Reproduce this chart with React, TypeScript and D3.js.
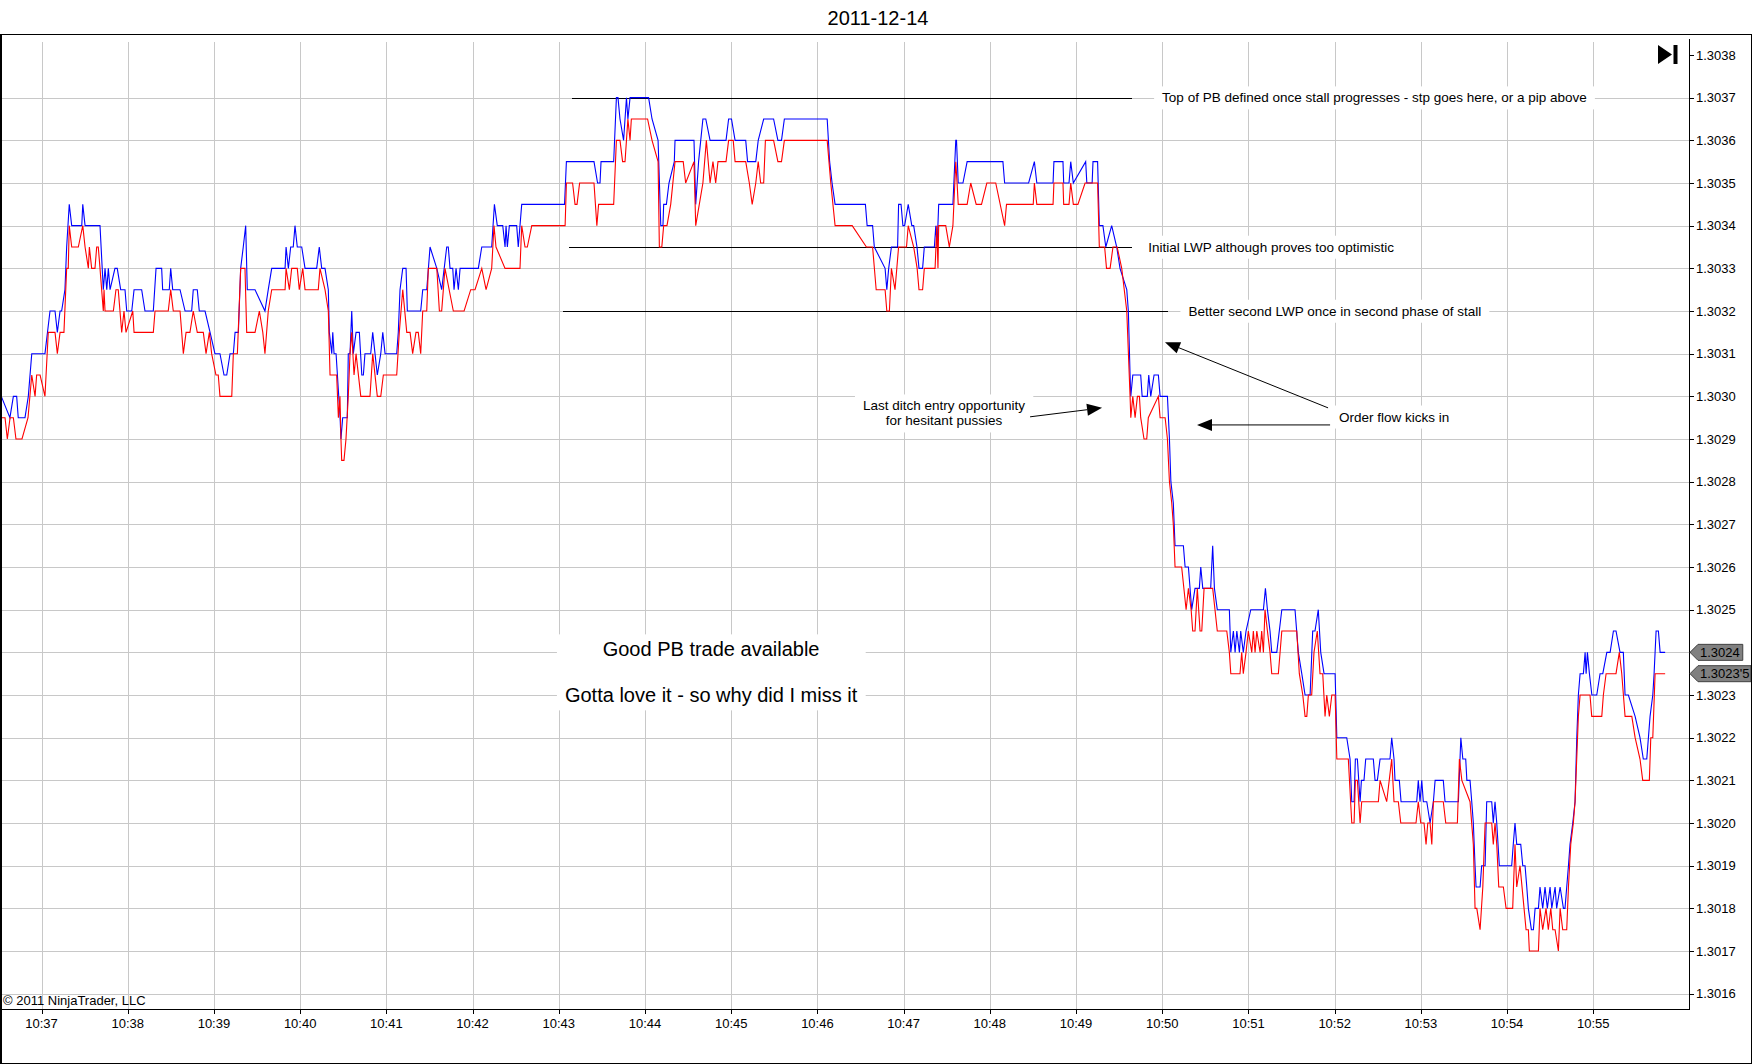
import { useEffect, useRef } from 'react';
import * as d3 from 'd3';

// tick chart of 2011-12-14, 10:36:31 - 10:56:06 (times are seconds after 10:36:00)
const TITLE = '2011-12-14';
const COPYRIGHT = '\u00a9 2011 NinjaTrader, LLC';
const SESSION_START = new Date(2011, 11, 14, 10, 36, 0);
const VIEW_FROM = 31.1;
const VIEW_TO = 1206.6;

const TIME_TICKS = ['10:37', '10:38', '10:39', '10:40', '10:41', '10:42', '10:43', '10:44', '10:45',
  '10:46', '10:47', '10:48', '10:49', '10:50', '10:51', '10:52', '10:53', '10:54', '10:55'];

const PRICE_TICKS = [1.3016, 1.3017, 1.3018, 1.3019, 1.302, 1.3021, 1.3022, 1.3023, 1.3024, 1.3025,
  1.3026, 1.3027, 1.3028, 1.3029, 1.303, 1.3031, 1.3032, 1.3033, 1.3034, 1.3035, 1.3036, 1.3037, 1.3038];

// ask (blue) ticks: [seconds, price]
const ASK: [number, number][] = [
  [32, 1.303], [38, 1.30295], [40.4, 1.303], [42.7, 1.303], [43.8, 1.30295], [48.5, 1.30295], [50.8, 1.303],
  [53.2, 1.3031], [62.4, 1.3031], [65.9, 1.3032], [69.4, 1.3032], [71, 1.30315], [72.9, 1.3032], [74, 1.3032],
  [76.3, 1.30325], [77.5, 1.30335], [79.3, 1.30345], [81, 1.3034], [88, 1.3034], [88.7, 1.30345], [90.3, 1.3034],
  [100.7, 1.3034], [103, 1.30325], [104.2, 1.3033], [105.4, 1.30325], [106.5, 1.3033], [107.7, 1.30325],
  [111.1, 1.3033], [112.7, 1.3033], [115.1, 1.30325], [118.1, 1.30325], [119.3, 1.3032], [122.8, 1.3032],
  [124.4, 1.30325], [129.7, 1.30325], [132, 1.3032], [137.8, 1.3032], [139.7, 1.3033], [143.6, 1.3033],
  [144.3, 1.30325], [148.9, 1.30325], [149.9, 1.3033], [151.3, 1.30325], [156.4, 1.30325], [159.9, 1.3032],
  [164.5, 1.3032], [165.6, 1.30325], [168.4, 1.30325], [169.8, 1.3032], [173.8, 1.3032], [177.3, 1.30315],
  [180.7, 1.3031], [184.2, 1.3031], [187, 1.30305], [188.9, 1.30305], [191.2, 1.3031], [193.5, 1.3031],
  [194.7, 1.30315], [197, 1.30315], [198.6, 1.3033], [200.4, 1.30335], [202.1, 1.3034], [203.2, 1.30325],
  [208.6, 1.30325], [215.5, 1.3032], [217.8, 1.30325], [220.2, 1.3033], [229.5, 1.3033], [230.2, 1.30335],
  [231.8, 1.3033], [233.4, 1.30335], [235.2, 1.30335], [236.4, 1.3034], [238, 1.30335], [241.1, 1.30335],
  [243.4, 1.3033], [251.5, 1.3033], [253.3, 1.30335], [255, 1.3033], [257.3, 1.3033], [259.6, 1.30325],
  [260.3, 1.30315], [262, 1.3031], [262.7, 1.30315], [263.6, 1.3031], [265, 1.3031], [267.8, 1.30295],
  [268.4, 1.3029], [269.6, 1.30295], [272.8, 1.30295], [273.5, 1.3031], [274.7, 1.3031], [275.9, 1.3032],
  [277, 1.3031], [278.9, 1.30315], [281.2, 1.30315], [282.9, 1.30305], [284, 1.30305], [285.1, 1.3031],
  [289.1, 1.3031], [290.5, 1.30315], [292.1, 1.3031], [293.7, 1.30305], [296.1, 1.3031], [297.5, 1.30315],
  [299.1, 1.3031], [307.2, 1.3031], [308.3, 1.30315], [309.5, 1.30325], [311.4, 1.3033], [313.7, 1.3033],
  [314.6, 1.3032], [323.9, 1.3032], [325.3, 1.30325], [328.1, 1.30325], [330.4, 1.30335], [335.1, 1.3033],
  [338.5, 1.30325], [342, 1.30335], [343.1, 1.30335], [344.3, 1.3033], [346.2, 1.3033], [347.1, 1.30325],
  [348.5, 1.3033], [350.1, 1.30325], [351.3, 1.3033], [364, 1.3033], [366.4, 1.30335], [373.3, 1.30335],
  [375.2, 1.30345], [377.2, 1.3034], [381, 1.3034], [382.6, 1.30335], [383.3, 1.3034], [384.2, 1.30335],
  [385.6, 1.3034], [390.7, 1.3034], [391.8, 1.30335], [394.2, 1.30345], [424, 1.30345], [425.3, 1.30355],
  [444.5, 1.30355], [447, 1.3035], [448.7, 1.3035], [449.4, 1.30355], [458.2, 1.30355], [460.1, 1.3037],
  [461.2, 1.3037], [462.6, 1.30365], [465.1, 1.3036], [467.1, 1.3037], [468.1, 1.30365], [469.6, 1.3037],
  [482.5, 1.3037], [484.9, 1.30365], [489.1, 1.3036], [491, 1.3034], [492.5, 1.3034], [493, 1.30345],
  [494.9, 1.30345], [496.7, 1.3035], [500.4, 1.30355], [500.9, 1.3036], [514.1, 1.3036], [515.3, 1.30345],
  [517.3, 1.30355], [520.3, 1.30365], [522.3, 1.30365], [525.3, 1.3036], [536.4, 1.3036], [538.2, 1.30365],
  [540.2, 1.30365], [542.7, 1.3036], [550.1, 1.3036], [551.4, 1.30355], [557.1, 1.30355], [558.8, 1.3036],
  [562.6, 1.30365], [569.5, 1.30365], [572.5, 1.3036], [575, 1.3036], [577, 1.30365], [606.8, 1.30365],
  [608.5, 1.30355], [610.2, 1.3035], [612.3, 1.30345], [633.4, 1.30345], [634.6, 1.3034], [638.4, 1.3034],
  [639.6, 1.30335], [647.1, 1.3033], [648.3, 1.30325], [649.6, 1.3033], [651.5, 1.30335], [655.8, 1.30335],
  [656.5, 1.30345], [658.2, 1.30345], [659.5, 1.3034], [660.7, 1.3034], [663.2, 1.30345], [665.7, 1.3034],
  [667, 1.3034], [669.3, 1.30335], [670.7, 1.3033], [673.2, 1.3033], [674.4, 1.30335], [681.4, 1.30335],
  [682.4, 1.3034], [683.3, 1.30335], [684.4, 1.30345], [694.3, 1.30345], [696.3, 1.3036], [696.8, 1.3036],
  [698, 1.3035], [701.3, 1.3035], [704.2, 1.30355], [729.1, 1.30355], [730.3, 1.3035], [747, 1.3035],
  [751, 1.30355], [752.7, 1.3035], [764, 1.3035], [764.6, 1.30355], [770.9, 1.30355], [771.4, 1.3035],
  [775.1, 1.3035], [776.3, 1.30355], [778.1, 1.3035], [786.7, 1.30355], [787.5, 1.3035], [791.2, 1.3035],
  [791.8, 1.30355], [795, 1.30355], [796.2, 1.3034], [798.7, 1.3034], [800.7, 1.30335], [804.8, 1.3034],
  [808.3, 1.30335], [810.6, 1.3033], [815.3, 1.30325], [816.4, 1.3032], [817.6, 1.30305], [818.1, 1.303],
  [819.5, 1.30305], [825, 1.30305], [826, 1.303], [829.6, 1.303], [830.6, 1.30305], [832, 1.303],
  [834.3, 1.30305], [837.3, 1.30305], [838.5, 1.303], [843.6, 1.303], [845, 1.3029], [846, 1.3028],
  [847.7, 1.30275], [848.9, 1.30265], [854.7, 1.30265], [855.9, 1.3026], [858.2, 1.3026], [860.5, 1.3025],
  [862.8, 1.30255], [865.8, 1.30255], [866.8, 1.3026], [868.2, 1.30255], [873.7, 1.30255], [875.1, 1.30265],
  [876.3, 1.30255], [878.3, 1.3025], [886.7, 1.3025], [887.7, 1.3024], [889.5, 1.30245], [890.7, 1.3024],
  [891.9, 1.30245], [893.7, 1.3024], [894.6, 1.30245], [896.4, 1.3024], [898.3, 1.30245], [901.6, 1.3025],
  [910.4, 1.3025], [911.8, 1.30255], [913.2, 1.3025], [915, 1.30245], [916.2, 1.3024], [919.7, 1.3024],
  [923.2, 1.3025], [932.4, 1.3025], [934.7, 1.3024], [937.1, 1.30235], [939.4, 1.3023], [942.9, 1.3023],
  [944.7, 1.30245], [946.3, 1.30245], [948.6, 1.3025], [950.3, 1.3024], [952.6, 1.30235], [960.3, 1.30235],
  [961.5, 1.3022], [968.4, 1.3022], [970.7, 1.30215], [971.9, 1.30205], [973.5, 1.30205], [974.4, 1.30215],
  [975.8, 1.30215], [977.7, 1.30205], [978.6, 1.3021], [980.4, 1.3021], [981.6, 1.30215], [986.9, 1.30215],
  [988.1, 1.3021], [989.7, 1.3021], [991.6, 1.30215], [998.5, 1.30215], [999.7, 1.3022], [1001.3, 1.30215],
  [1002, 1.3021], [1005, 1.3021], [1006.2, 1.30205], [1017.1, 1.30205], [1018.2, 1.3021], [1019.4, 1.30205],
  [1020.6, 1.3021], [1021.7, 1.30205], [1024.1, 1.30205], [1026.4, 1.302], [1028.7, 1.30205], [1029.9, 1.3021],
  [1035.6, 1.3021], [1036.8, 1.30205], [1046.1, 1.30205], [1047.8, 1.3022], [1049.2, 1.30215], [1051.2, 1.30215],
  [1052, 1.3021], [1054.2, 1.3021], [1055.4, 1.30205], [1056.5, 1.302], [1057.7, 1.3019], [1058.4, 1.30185],
  [1061.2, 1.30185], [1062.3, 1.3019], [1064.7, 1.3019], [1065.8, 1.30205], [1069.3, 1.30205], [1070.4, 1.302],
  [1071.6, 1.30205], [1072.8, 1.302], [1074.6, 1.3019], [1083.2, 1.3019], [1084.3, 1.30195], [1085.5, 1.302],
  [1086.7, 1.30195], [1089.5, 1.30195], [1090.9, 1.3019], [1092.5, 1.3019], [1093.7, 1.30185], [1094.8, 1.3018],
  [1096.9, 1.30175], [1098.3, 1.30175], [1099.5, 1.3018], [1101.8, 1.3018], [1102.9, 1.30185], [1104.8, 1.3018],
  [1106.4, 1.30185], [1108, 1.3018], [1109.9, 1.30185], [1111.1, 1.3018], [1113.4, 1.30185], [1114.5, 1.3018],
  [1116.9, 1.30185], [1119.2, 1.3018], [1120.3, 1.3018], [1122.7, 1.3019], [1123.8, 1.30195], [1125.7, 1.302],
  [1127.3, 1.30205], [1128.5, 1.3022], [1129.6, 1.3023], [1130.8, 1.30235], [1133.1, 1.30235], [1134.3, 1.3024],
  [1135, 1.30235], [1135.9, 1.3024], [1137.3, 1.30235], [1139, 1.3023], [1142.4, 1.3023], [1144.7, 1.30235],
  [1146.6, 1.30235], [1149.4, 1.3024], [1151.7, 1.3024], [1154, 1.30245], [1155.8, 1.30245], [1158.6, 1.3024],
  [1160.9, 1.3024], [1162.1, 1.3023], [1164.4, 1.3023], [1169.1, 1.30225], [1172.5, 1.3022], [1174.8, 1.30215],
  [1177.2, 1.30215], [1179.5, 1.30225], [1181.4, 1.3023], [1182.3, 1.30235], [1183.7, 1.30245], [1185.3, 1.30245],
  [1186.5, 1.3024], [1190, 1.3024],
];

// bid (red) ticks: [seconds, price]
const BID: [number, number][] = [
  [31.1, 1.30295], [34.6, 1.30295], [36.2, 1.3029], [38.1, 1.30295], [40.4, 1.30295], [42.2, 1.3029], [46.4, 1.3029],
  [50.6, 1.30295], [53.2, 1.30305], [55.5, 1.303], [56.6, 1.30305], [59, 1.30305], [62.4, 1.303], [64.7, 1.30315],
  [69.4, 1.30315], [71, 1.3031], [72.9, 1.30315], [75.6, 1.30315], [77.5, 1.3033], [78.6, 1.3033], [79.3, 1.3034],
  [81, 1.30335], [85.6, 1.30335], [88.7, 1.3034], [90.3, 1.30335], [92.6, 1.3033], [93.3, 1.30335], [94.9, 1.3033],
  [97.2, 1.3033], [98.4, 1.30335], [99.5, 1.30335], [100.7, 1.3033], [103, 1.3032], [103.5, 1.30325], [104.2, 1.3032],
  [110, 1.3032], [111.8, 1.30325], [113.4, 1.30325], [115.8, 1.30315], [117.4, 1.3032], [118.8, 1.30315],
  [123.5, 1.3032], [124.4, 1.30315], [137.8, 1.30315], [139, 1.3032], [148.2, 1.3032], [149.9, 1.30325],
  [151.7, 1.3032], [156.4, 1.3032], [158.7, 1.3031], [160.6, 1.30315], [163.3, 1.30315], [165.6, 1.3032],
  [168.4, 1.30315], [172.6, 1.30315], [174.5, 1.3031], [176.8, 1.30315], [178.4, 1.3031], [181.4, 1.30305],
  [183, 1.30305], [184.2, 1.303], [192.4, 1.303], [193.5, 1.3031], [196.3, 1.3031], [198.6, 1.3033], [201.6, 1.3033],
  [202.8, 1.30315], [208.6, 1.30315], [211.6, 1.3032], [214, 1.30315], [215.5, 1.3031], [217.8, 1.3032],
  [220.2, 1.30325], [229.5, 1.30325], [230.2, 1.3033], [232.5, 1.30325], [234.1, 1.3033], [238, 1.3033],
  [239.4, 1.30325], [241.8, 1.3033], [243.4, 1.30325], [252.6, 1.30325], [253.8, 1.3033], [257.3, 1.30325],
  [259.6, 1.3032], [260.8, 1.30305], [265.4, 1.30305], [266.6, 1.30295], [267.7, 1.303], [268.4, 1.3029],
  [268.9, 1.30285], [270.5, 1.30285], [271.9, 1.3029], [273.5, 1.303], [274.7, 1.3031], [275.9, 1.30315],
  [277.5, 1.30305], [278.9, 1.3031], [282.2, 1.303], [288.6, 1.303], [290.5, 1.3031], [293.7, 1.303], [296.1, 1.303],
  [297.9, 1.30305], [307.2, 1.30305], [309, 1.30315], [311.4, 1.30325], [314.2, 1.30315], [316.5, 1.30315],
  [318.3, 1.3031], [320.6, 1.30315], [322.2, 1.30315], [323.9, 1.3031], [325.3, 1.3032], [328.1, 1.3032],
  [329.2, 1.3033], [335.1, 1.3033], [336.9, 1.3032], [338.5, 1.3032], [340.8, 1.3033], [346.6, 1.3032],
  [354.1, 1.3032], [358.7, 1.30325], [361.7, 1.30325], [366.4, 1.3033], [369.4, 1.30325], [373.3, 1.3033],
  [374.9, 1.3034], [376.3, 1.30335], [382.6, 1.3033], [393, 1.3033], [394.2, 1.3034], [396.5, 1.30335],
  [398.1, 1.30335], [401.2, 1.3034], [424.4, 1.3034], [425.3, 1.3035], [429.6, 1.3035], [431.3, 1.30345],
  [432.7, 1.30345], [434.5, 1.3035], [444.5, 1.3035], [446.5, 1.3034], [447.7, 1.30345], [450.1, 1.30345],
  [458.2, 1.30345], [460.1, 1.3036], [462.6, 1.3036], [464.4, 1.30355], [466.1, 1.30355], [467.1, 1.3036],
  [468.1, 1.30365], [469.6, 1.3036], [470.5, 1.30365], [481.8, 1.30365], [484.9, 1.3036], [489.1, 1.30355],
  [490, 1.30335], [491.7, 1.30335], [493, 1.3034], [495.3, 1.3034], [497.9, 1.30345], [500.9, 1.30355],
  [506.6, 1.30355], [508.3, 1.3035], [514.1, 1.30355], [515.3, 1.3034], [517.8, 1.30345], [520.3, 1.3035],
  [522.7, 1.3036], [525.3, 1.3035], [527.3, 1.30355], [529.2, 1.3035], [530.8, 1.30355], [536.4, 1.30355],
  [538.2, 1.3036], [541.4, 1.3036], [542.7, 1.30355], [550.1, 1.30355], [552.6, 1.3035], [554.6, 1.30345],
  [557.1, 1.3035], [558.8, 1.30355], [560.5, 1.3035], [562.6, 1.3035], [563.8, 1.3036], [569.5, 1.3036],
  [572.5, 1.30355], [575, 1.30355], [577, 1.3036], [606.8, 1.3036], [609.3, 1.3035], [612.3, 1.3034],
  [624.2, 1.3034], [634.1, 1.30335], [638.4, 1.30335], [640.9, 1.30325], [647.1, 1.30325], [648.3, 1.3032],
  [650.1, 1.3032], [651.5, 1.3033], [654, 1.30325], [656.5, 1.30335], [662, 1.30335], [663.2, 1.3034],
  [667, 1.30335], [669.4, 1.3033], [670.7, 1.30325], [673.2, 1.30325], [674.4, 1.3033], [681.9, 1.3033],
  [683.1, 1.3034], [683.9, 1.3033], [684.4, 1.3034], [689.3, 1.3034], [691.8, 1.30335], [694.3, 1.3034],
  [696.3, 1.30355], [697.2, 1.3035], [698, 1.30345], [704.2, 1.30345], [706.7, 1.3035], [710.5, 1.30345],
  [714.2, 1.30345], [717.9, 1.3035], [724.1, 1.3035], [730.3, 1.3034], [731.6, 1.30345], [750.2, 1.30345],
  [751, 1.3035], [752.7, 1.30345], [764, 1.30345], [764.6, 1.3035], [770.9, 1.3035], [771.4, 1.30345],
  [775.1, 1.30345], [776.3, 1.3035], [778.1, 1.30345], [781.3, 1.30345], [786.3, 1.3035], [795, 1.3035],
  [796.2, 1.30335], [799.9, 1.30335], [801.2, 1.3033], [803.7, 1.3033], [805.7, 1.30335], [808.6, 1.30335],
  [811.8, 1.3033], [815.3, 1.3032], [817.6, 1.303], [818.1, 1.30295], [819.5, 1.303], [821.1, 1.30295],
  [822.7, 1.303], [824.1, 1.303], [825, 1.30295], [827.3, 1.3029], [829.2, 1.3029], [830.3, 1.30295],
  [837.3, 1.303], [838.5, 1.30295], [842, 1.30295], [843.6, 1.3029], [845, 1.3028], [846.6, 1.30275],
  [847.7, 1.3027], [848.9, 1.3026], [853.5, 1.3026], [856.6, 1.3025], [858.2, 1.30255], [860.1, 1.3025],
  [861.2, 1.30245], [862.8, 1.30245], [864.4, 1.30255], [866.3, 1.30245], [867.5, 1.30245], [869.1, 1.30255],
  [875.1, 1.30255], [876.7, 1.3025], [878.3, 1.30245], [884.9, 1.30245], [886.7, 1.3024], [887.7, 1.30235],
  [894.1, 1.30235], [895.3, 1.3024], [896.4, 1.30235], [898.3, 1.3024], [899.9, 1.30245], [902.3, 1.3024],
  [903.4, 1.30245], [904.6, 1.3024], [905.8, 1.30245], [908.1, 1.3024], [909.2, 1.30245], [910.4, 1.3024],
  [911.5, 1.3025], [913.2, 1.30245], [915, 1.3024], [916.2, 1.30235], [920.8, 1.30235], [923.2, 1.30245],
  [933.6, 1.30245], [935.4, 1.30235], [937.8, 1.3023], [939.4, 1.30225], [940.6, 1.30225], [941.7, 1.3023],
  [944, 1.3023], [945.6, 1.3024], [947.9, 1.30245], [949.8, 1.30235], [951.7, 1.30235], [953.3, 1.30225],
  [954.5, 1.3023], [956.3, 1.30225], [958, 1.3023], [960.3, 1.3023], [961.5, 1.30215], [969.5, 1.30215],
  [971.9, 1.302], [973.5, 1.302], [974.4, 1.3021], [975.8, 1.3021], [977.7, 1.302], [978.8, 1.30205],
  [990.4, 1.30205], [991.6, 1.3021], [996.2, 1.30205], [999.7, 1.30215], [1001.3, 1.30205], [1004.3, 1.30205],
  [1006, 1.302], [1016.6, 1.302], [1018.2, 1.30205], [1019.9, 1.302], [1022.2, 1.302], [1023.6, 1.30195],
  [1024.8, 1.302], [1026.4, 1.302], [1027.6, 1.30195], [1028.7, 1.30205], [1035.6, 1.30205], [1037.3, 1.302],
  [1045.4, 1.302], [1046.8, 1.30215], [1048.5, 1.3021], [1054.2, 1.30205], [1056.5, 1.30195], [1057.7, 1.3018],
  [1058.9, 1.3018], [1061.2, 1.30175], [1063.1, 1.30185], [1064.7, 1.302], [1069.3, 1.302], [1070.4, 1.30195],
  [1071.6, 1.302], [1072.8, 1.30195], [1074.2, 1.30185], [1077.4, 1.30185], [1079.3, 1.3018], [1083.9, 1.3018],
  [1085.5, 1.30195], [1086.7, 1.30185], [1089, 1.3019], [1091.8, 1.3018], [1093.2, 1.30175], [1094.8, 1.30175],
  [1095.5, 1.3017], [1101.8, 1.3017], [1102.9, 1.3018], [1104.8, 1.30175], [1107.1, 1.3018], [1108.7, 1.30175],
  [1110.4, 1.3018], [1111.8, 1.30175], [1113.4, 1.30175], [1115.7, 1.3017], [1116.9, 1.3018], [1118.7, 1.30175],
  [1121.5, 1.30175], [1122.7, 1.30185], [1124.3, 1.30195], [1126.1, 1.302], [1127.3, 1.30205], [1129.6, 1.30225],
  [1130.8, 1.3023], [1137.7, 1.3023], [1138.9, 1.30225], [1145.9, 1.30225], [1147, 1.3023], [1148.9, 1.30235],
  [1155.8, 1.30235], [1158.1, 1.3024], [1159.8, 1.30235], [1162.1, 1.30225], [1166.8, 1.30225], [1169.1, 1.3022],
  [1172.5, 1.30215], [1174.4, 1.3021], [1179, 1.3021], [1180, 1.3022], [1181.4, 1.3022], [1183, 1.30235],
  [1190, 1.30235],
];

// drawing objects, anchored in (seconds, price)
const H_LINES = [
  { from: 429.2, to: 819, price: 1.3037 },
  { from: 427.1, to: 819, price: 1.30335 },
  { from: 423, to: 844, price: 1.3032 },
];

const NOTES = [
  { t: 839.9, price: 1.3037, anchor: 'start', size: 13.5, lines: ['Top of PB defined once stall progresses - stp goes here, or a pip above'] },
  { t: 830.3, price: 1.30335, anchor: 'start', size: 13.5, lines: ['Initial LWP although proves too optimistic'] },
  { t: 858.2, price: 1.3032, anchor: 'start', size: 13.5, lines: ['Better second LWP once in second phase of stall'] },
  { t: 688.1, price: 1.302978, anchor: 'middle', size: 13.5, lines: ['Last ditch entry opportunity', 'for hesitant pussies'] },
  { t: 963, price: 1.302952, anchor: 'start', size: 13.5, lines: ['Order flow kicks in'] },
  { t: 526, price: 1.302407, anchor: 'middle', size: 20, lines: ['Good PB trade available', '', 'Gotta love it - so why did I miss it'] },
];

const ARROWS: { from: [number, number]; to: [number, number] }[] = [
  { from: [748, 1.302952], to: [798.1, 1.302973] },
  { from: [955.4, 1.302973], to: [841.9, 1.303127] },
  { from: [956.8, 1.302933], to: [864.2, 1.302933] },
];

const FONT = 'Arial, "Liberation Sans", Helvetica, sans-serif';
const W = 1752;
const H = 1064;

const at = (s: number) => new Date(SESSION_START.getTime() + s * 1000);

function priceLabel(p: number) {
  const tenths = Math.round(p * 1e5);
  if (tenths % 10 === 5) return (Math.floor(tenths / 10) / 1e4).toFixed(4) + "'5";
  return p.toFixed(4);
}

export default function App() {
  const svgRef = useRef<SVGSVGElement>(null);

  useEffect(() => {
    document.body.style.margin = '0';
    if (!svgRef.current) return;
    const svg = d3.select(svgRef.current);
    svg.selectAll('*').remove();

    const plotRight = 1689;
    const axisY = 1009;
    const gridTop = 42;

    const x = d3.scaleTime().domain([at(VIEW_FROM), at(VIEW_TO)]).range([0, plotRight]);
    const y = d3.scaleLinear().domain([1.3016, 1.3038]).range([993.7, 55]);
    const parseTick = d3.timeParse('%Y-%m-%d %H:%M');
    const timeTicks = TIME_TICKS.map(s => parseTick(`${TITLE} ${s}`) as Date);

    const lastPrices = [ASK[ASK.length - 1][1], BID[BID.length - 1][1]];

    svg.append('rect').attr('width', W).attr('height', H).attr('fill', '#fff');

    // title
    svg.append('text')
      .attr('x', 878).attr('y', 25)
      .attr('text-anchor', 'middle')
      .attr('font-family', FONT).attr('font-size', 20)
      .text(TITLE);

    // grid
    const grid = svg.append('g').attr('stroke', '#c8c8c8').attr('shape-rendering', 'crispEdges');
    grid.selectAll('.gv').data(timeTicks).enter().append('line')
      .attr('x1', d => Math.round(x(d)) + 0.5).attr('x2', d => Math.round(x(d)) + 0.5)
      .attr('y1', gridTop).attr('y2', axisY);
    grid.selectAll('.gh').data(PRICE_TICKS.slice(0, -1)).enter().append('line')
      .attr('x1', 0).attr('x2', plotRight)
      .attr('y1', d => Math.round(y(d)) + 0.5).attr('y2', d => Math.round(y(d)) + 0.5);

    const bgLayer = svg.append('g');
    const drawLayer = svg.append('g');
    const seriesLayer = svg.append('g');
    const textLayer = svg.append('g');

    // horizontal drawing lines
    drawLayer.selectAll('.hl').data(H_LINES).enter().append('line')
      .attr('x1', d => x(at(d.from))).attr('x2', d => x(at(d.to)))
      .attr('y1', d => Math.round(y(d.price)) + 0.5).attr('y2', d => Math.round(y(d.price)) + 0.5)
      .attr('stroke', '#000').attr('shape-rendering', 'crispEdges');

    // arrows
    ARROWS.forEach(a => {
      const x1 = x(at(a.from[0])), y1 = y(a.from[1]);
      const x2 = x(at(a.to[0])), y2 = y(a.to[1]);
      const len = Math.hypot(x2 - x1, y2 - y1);
      const ux = (x2 - x1) / len, uy = (y2 - y1) / len;
      const headLen = 15, half = 6;
      const bx = x2 - ux * headLen, by = y2 - uy * headLen;
      drawLayer.append('line')
        .attr('x1', x1).attr('y1', y1).attr('x2', bx).attr('y2', by)
        .attr('stroke', '#000').attr('stroke-width', 1);
      drawLayer.append('polygon')
        .attr('points', [[x2, y2], [bx - uy * half, by + ux * half], [bx + uy * half, by - ux * half]].map(p => p.join(',')).join(' '))
        .attr('fill', '#000');
    });

    // ask / bid lines
    const line = d3.line<[number, number]>()
      .x(d => x(at(d[0])))
      .y(d => y(d[1]));
    seriesLayer.append('path').datum(ASK).attr('d', line)
      .attr('fill', 'none').attr('stroke', '#0000ff').attr('stroke-width', 1.1);
    seriesLayer.append('path').datum(BID).attr('d', line)
      .attr('fill', 'none').attr('stroke', '#ff0000').attr('stroke-width', 1.1);

    // notes with white background
    NOTES.forEach(n => {
      const lh = n.size === 20 ? 23 : 15;
      const g = textLayer.append('g');
      const cx = x(at(n.t));
      const cy = y(n.price);
      n.lines.forEach((s, i) => {
        if (!s) return;
        g.append('text')
          .attr('x', cx).attr('y', cy + i * lh + n.size * 0.35)
          .attr('text-anchor', n.anchor)
          .attr('font-family', FONT).attr('font-size', n.size)
          .attr('fill', '#000')
          .text(s);
      });
      const bb = (g.node() as SVGGElement).getBBox();
      bgLayer.append('rect')
        .attr('x', bb.x - 8).attr('y', bb.y - 4)
        .attr('width', bb.width + 16).attr('height', bb.height + 8)
        .attr('fill', '#fff');
    });

    // axes
    const axes = svg.append('g').attr('shape-rendering', 'crispEdges');
    axes.append('line').attr('x1', 0).attr('x2', plotRight + 0.5).attr('y1', axisY + 0.5).attr('y2', axisY + 0.5).attr('stroke', '#000');
    axes.append('line').attr('x1', plotRight + 0.5).attr('x2', plotRight + 0.5).attr('y1', 39).attr('y2', axisY + 0.5).attr('stroke', '#000');

    axes.selectAll('.xt').data(timeTicks).enter().append('line')
      .attr('x1', d => Math.round(x(d)) + 0.5).attr('x2', d => Math.round(x(d)) + 0.5)
      .attr('y1', axisY).attr('y2', axisY + 5).attr('stroke', '#000');
    svg.selectAll('.xl').data(timeTicks).enter().append('text')
      .attr('x', d => x(d)).attr('y', 1028)
      .attr('text-anchor', 'middle')
      .attr('font-family', FONT).attr('font-size', 13)
      .text(d => d3.timeFormat('%H:%M')(d));

    axes.selectAll('.yt').data(PRICE_TICKS).enter().append('line')
      .attr('x1', plotRight).attr('x2', plotRight + 5)
      .attr('y1', d => Math.round(y(d)) + 0.5).attr('y2', d => Math.round(y(d)) + 0.5)
      .attr('stroke', '#000');
    // labels under a last-price marker are covered by it, as in the platform
    const visibleTicks = PRICE_TICKS.filter(p => lastPrices.every(q => Math.abs(y(p) - y(q)) > 12));
    svg.selectAll('.yl').data(visibleTicks).enter().append('text')
      .attr('x', plotRight + 7).attr('y', d => y(d) + 4.5)
      .attr('font-family', FONT).attr('font-size', 13)
      .text(d => d.toFixed(4));

    // last price markers
    lastPrices.forEach(p => {
      const cy = y(p);
      const g = svg.append('g');
      const label = g.append('text')
        .attr('x', plotRight + 11).attr('y', cy + 4.5)
        .attr('font-family', FONT).attr('font-size', 13)
        .text(priceLabel(p));
      const tw = (label.node() as SVGTextElement).getComputedTextLength();
      const left = plotRight + 1, boxL = plotRight + 9, boxR = Math.min(boxL + tw + 5, W - 1);
      g.insert('polygon', 'text')
        .attr('points', [[left, cy], [boxL, cy - 8], [boxR, cy - 8], [boxR, cy + 8], [boxL, cy + 8]].map(q => q.join(',')).join(' '))
        .attr('fill', '#808080').attr('stroke', '#404040').attr('stroke-width', 1);
    });

    // "go to last bar" button
    svg.append('polygon').attr('points', '1658,45 1672,54.5 1658,64').attr('fill', '#000');
    svg.append('rect').attr('x', 1673.5).attr('y', 45).attr('width', 4).attr('height', 19).attr('fill', '#000');

    // copyright
    svg.append('text')
      .attr('x', 3).attr('y', 1005)
      .attr('font-family', FONT).attr('font-size', 13)
      .text(COPYRIGHT);

    // frame
    svg.append('rect')
      .attr('x', 0.5).attr('y', 34.5).attr('width', W - 1.5).attr('height', H - 35)
      .attr('fill', 'none').attr('stroke', '#000').attr('shape-rendering', 'crispEdges');
    svg.append('line').attr('x1', 1).attr('x2', 1).attr('y1', 34).attr('y2', H)
      .attr('stroke', '#000').attr('stroke-width', 2);
  }, []);

  return <svg ref={svgRef} width={W} height={H} style={{ display: 'block' }} />;
}
